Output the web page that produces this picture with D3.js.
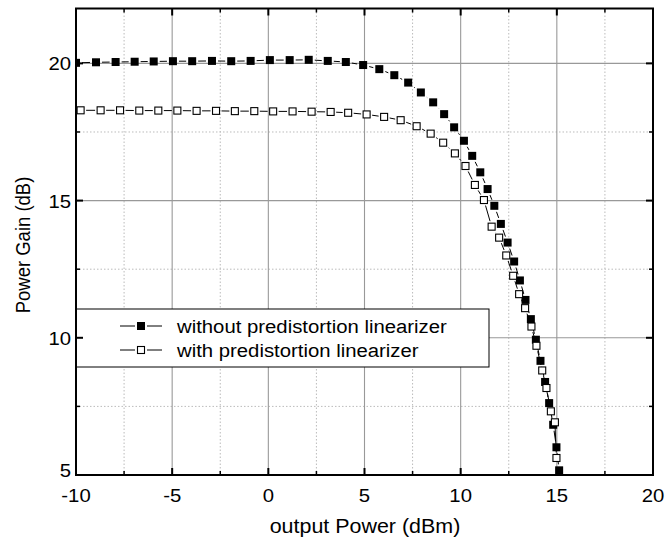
<!DOCTYPE html>
<html>
<head>
<meta charset="utf-8">
<script src="https://cdn.jsdelivr.net/npm/d3@7/dist/d3.min.js"></script>
<style>
  html, body { margin: 0; padding: 0; background: #fff; }
  svg { display: block; }
  text { font-family: "Liberation Sans", Arial, sans-serif; fill: #000; }
</style>
</head>
<body>
<svg id="chart" width="665" height="543"></svg>
<script>
// Output power (dBm) and power gain (dB), amplifier without linearizer
const withoutPout = [-10, -8.96, -7.94, -6.95, -5.96, -4.96, -3.96, -2.93, -1.93, -0.92,
  0.08, 1.11, 2.10, 3.09, 4.03, 4.93, 5.77, 6.55, 7.27, 7.93,
  8.57, 9.14, 9.66, 10.17, 10.60, 11.02, 11.40, 11.75, 12.09, 12.44,
  12.78, 13.08, 13.37, 13.65, 13.91, 14.15, 14.39, 14.60, 14.81, 14.98, 15.12];
const withoutGain = [20.02, 20.04, 20.05, 20.06, 20.07, 20.08, 20.08, 20.09, 20.08, 20.09,
  20.12, 20.12, 20.13, 20.09, 20.05, 19.94, 19.79, 19.57, 19.30, 18.94,
  18.58, 18.15, 17.67, 17.18, 16.63, 16.03, 15.42, 14.81, 14.15, 13.47,
  12.78, 12.09, 11.38, 10.68, 9.93, 9.16, 8.39, 7.62, 6.83, 6.01, 5.17];

// Same amplifier with the predistortion linearizer
const withPout = [-9.76, -8.72, -7.71, -6.71, -5.72, -4.73, -3.73, -2.72, -1.74, -0.73,
  0.25, 1.26, 2.25, 3.24, 4.15, 5.11, 6.02, 6.88, 7.71, 8.44,
  9.09, 9.70, 10.25, 10.74, 11.21, 11.61, 12.00, 12.37, 12.73, 13.04,
  13.35, 13.68, 13.94, 14.24, 14.46, 14.69, 14.90, 14.98];
const withGain = [18.29, 18.29, 18.29, 18.28, 18.28, 18.28, 18.27, 18.27, 18.26, 18.26,
  18.25, 18.25, 18.24, 18.23, 18.20, 18.14, 18.05, 17.93, 17.71, 17.44,
  17.11, 16.72, 16.26, 15.57, 15.02, 14.05, 13.65, 13.00, 12.26, 11.59,
  11.08, 10.41, 9.71, 8.81, 8.17, 7.32, 6.92, 5.62];

const xMajorTicks = [-10, -5, 0, 5, 10, 15, 20];
const xMinorTicks = [-7.5, -2.5, 2.5, 7.5, 12.5, 17.5];
const yMajorTicks = [5, 10, 15, 20];
const yMinorTicks = [7.5, 12.5, 17.5];
const legendLabels = ["without predistortion linearizer", "with predistortion linearizer"];
const xTitle = "output Power (dBm)";
const yTitle = "Power Gain (dB)";

const svg = d3.select("#chart");
const plotL = 76, plotR = 653, plotT = 8.5, plotB = 475;
const x = d3.scaleLinear().domain([-10, 20]).range([plotL, plotR]);
const y = d3.scaleLinear().domain([5, 22]).range([plotB, plotT]);
const stretch = 1.07;

// grid
const grid = svg.append("g");
grid.selectAll(".gxm").data(xMinorTicks).join("line")
  .attr("x1", d => x(d)).attr("x2", d => x(d)).attr("y1", plotT).attr("y2", plotB)
  .attr("stroke", "#bbb").attr("stroke-width", 1).attr("stroke-dasharray", "1.5,2");
grid.selectAll(".gym").data(yMinorTicks).join("line")
  .attr("y1", d => y(d)).attr("y2", d => y(d)).attr("x1", plotL).attr("x2", plotR)
  .attr("stroke", "#bbb").attr("stroke-width", 1).attr("stroke-dasharray", "1.5,2");
grid.selectAll(".gxM").data(xMajorTicks.filter(d => d > -10 && d < 20)).join("line")
  .attr("x1", d => x(d)).attr("x2", d => x(d)).attr("y1", plotT).attr("y2", plotB)
  .attr("stroke", "#999").attr("stroke-width", 1.1);
grid.selectAll(".gyM").data(yMajorTicks.filter(d => d > 5)).join("line")
  .attr("y1", d => y(d)).attr("y2", d => y(d)).attr("x1", plotL).attr("x2", plotR)
  .attr("stroke", "#999").attr("stroke-width", 1.1);

// legend box sits under the data
const legend = svg.append("g");
legend.append("rect").attr("x", plotL).attr("y", 309).attr("width", 413).attr("height", 58)
  .attr("fill", "#fff").attr("stroke", "#000").attr("stroke-width", 1);

// data
const defs = svg.append("defs");
defs.append("clipPath").attr("id", "plotClip").append("rect")
  .attr("x", plotL).attr("y", plotT).attr("width", plotR - plotL).attr("height", plotB - plotT);

function drawSeries(id, xs, ys, filled, size) {
  const pts = xs.map((v, i) => [x(v), y(ys[i])]);
  // line stops short of each symbol
  const mask = defs.append("mask").attr("id", id).attr("maskUnits", "userSpaceOnUse")
    .attr("x", 0).attr("y", 0).attr("width", 665).attr("height", 543);
  mask.append("rect").attr("width", 665).attr("height", 543).attr("fill", "#fff");
  const g = size + 4;
  mask.selectAll("rect.m").data(pts).join("rect").attr("class", "m")
    .attr("x", d => d[0] - g / 2).attr("y", d => d[1] - g / 2)
    .attr("width", g).attr("height", g).attr("fill", "#000");
  const grp = svg.append("g").attr("clip-path", "url(#plotClip)");
  grp.append("path").attr("d", d3.line()(pts)).attr("fill", "none")
    .attr("stroke", "#000").attr("stroke-width", 1).attr("mask", `url(#${id})`);
  grp.selectAll("rect.s").data(pts).join("rect").attr("class", "s")
    .attr("x", d => d[0] - size / 2).attr("y", d => d[1] - size / 2)
    .attr("width", size).attr("height", size)
    .attr("fill", filled ? "#000" : "#fff")
    .attr("stroke", "#000").attr("stroke-width", filled ? 0 : 1.1);
}
drawSeries("maskWithout", withoutPout, withoutGain, true, 8);
drawSeries("maskWith", withPout, withGain, false, 7);

// frame and ticks
const frame = svg.append("g");
frame.append("rect").attr("x", plotL).attr("y", plotT).attr("width", plotR - plotL).attr("height", plotB - plotT)
  .attr("fill", "none").attr("stroke", "#000").attr("stroke-width", 2);
[[xMajorTicks, 7, 2], [xMinorTicks, 4, 1.5]].forEach(([arr, len, w]) => {
  frame.selectAll(null).data(arr).join("line")
    .attr("x1", d => x(d)).attr("x2", d => x(d)).attr("y1", plotB).attr("y2", plotB - len)
    .attr("stroke", "#000").attr("stroke-width", w);
  frame.selectAll(null).data(arr).join("line")
    .attr("x1", d => x(d)).attr("x2", d => x(d)).attr("y1", plotT).attr("y2", plotT + len)
    .attr("stroke", "#000").attr("stroke-width", w);
});
[[yMajorTicks, 7, 2], [yMinorTicks, 4, 1.5]].forEach(([arr, len, w]) => {
  frame.selectAll(null).data(arr).join("line")
    .attr("y1", d => y(d)).attr("y2", d => y(d)).attr("x1", plotL).attr("x2", plotL + len)
    .attr("stroke", "#000").attr("stroke-width", w);
  frame.selectAll(null).data(arr).join("line")
    .attr("y1", d => y(d)).attr("y2", d => y(d)).attr("x1", plotR).attr("x2", plotR - len)
    .attr("stroke", "#000").attr("stroke-width", w);
});

// tick labels
const labels = svg.append("g").style("font-size", "19px");
labels.selectAll(".xl").data(xMajorTicks).join("text")
  .attr("transform", d => `translate(${x(d)},${plotB + 27}) scale(${stretch},1)`)
  .attr("text-anchor", "middle").text(d => d);
labels.selectAll(".yl").data(yMajorTicks).join("text")
  .attr("transform", d => `translate(${plotL - 5},${y(d) + (d === 5 ? 2 : 7)}) scale(${stretch},1)`)
  .attr("text-anchor", "end").text(d => d);

// axis titles
svg.append("text").attr("transform", `translate(${(plotL + plotR) / 2 + 0.5},${533}) scale(1.1,1)`)
  .attr("text-anchor", "middle").style("font-size", "19.5px").text(xTitle);
svg.append("text").attr("transform", `translate(${30},${245}) scale(${stretch},1) rotate(-90)`)
  .attr("text-anchor", "middle").style("font-size", "18.5px").text(yTitle);

// legend entries
const rows = [{ filled: true, size: 8, yy: 326 }, { filled: false, size: 7, yy: 350 }];
rows.forEach((r, i) => {
  legend.append("line").attr("x1", 120).attr("x2", 135).attr("y1", r.yy).attr("y2", r.yy)
    .attr("stroke", "#000").attr("stroke-width", 1);
  legend.append("line").attr("x1", 147).attr("x2", 162).attr("y1", r.yy).attr("y2", r.yy)
    .attr("stroke", "#000").attr("stroke-width", 1);
  legend.append("rect").attr("x", 141 - r.size / 2).attr("y", r.yy - r.size / 2)
    .attr("width", r.size).attr("height", r.size)
    .attr("fill", r.filled ? "#000" : "#fff").attr("stroke", "#000").attr("stroke-width", r.filled ? 0 : 1.1);
  legend.append("text").attr("transform", `translate(177,${r.yy + 7}) scale(${stretch},1)`)
    .style("font-size", "19px").text(legendLabels[i]);
});
</script>
</body>
</html>
